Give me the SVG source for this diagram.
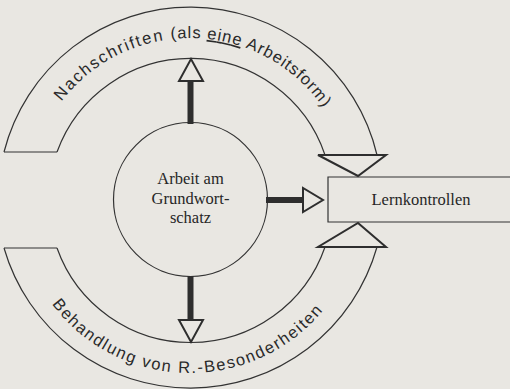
<svg xmlns="http://www.w3.org/2000/svg" width="510" height="389" viewBox="0 0 510 389">
<style>
.bg{fill:#e9e7e2}
.ln{fill:none;stroke:#333;stroke-width:1.2}
.head{fill:#e9e7e2;stroke:#2e2e2e;stroke-width:2;stroke-linejoin:miter}
.shaft{fill:#2e2e2e}
.serif{font-family:"Liberation Serif","Times New Roman",serif;font-size:16.5px;fill:#262626;text-anchor:middle}
.sans{font-family:"Liberation Sans",Arial,sans-serif;font-size:16.5px;fill:#2a2a2a}
</style>
<defs>
<path id="topPath" d="M61.5,101.4 A162,162 0 0 1 336.8,131.5"/>
<path id="botPath" d="M51.8,304.1 A173,173 0 0 0 339.8,286.5"/>
</defs>
<rect class="bg" x="0" y="0" width="510" height="389"/>
<g id="band-top">
<path class="ln" d="M4,152 A192,192 0 0 1 377,155"/>
<path class="ln" d="M57,152 A142,142 0 0 1 325,155"/>
<path class="ln" d="M4,152 H57"/>
<text class="sans"><textPath href="#topPath"><tspan letter-spacing="1.7">Nachschriften </tspan><tspan letter-spacing="0.9">(als <tspan text-decoration="underline">eine</tspan> Arbeitsform)</tspan></textPath></text>
</g>
<g id="band-bottom">
<path class="ln" d="M4,248 A194,194 0 0 0 377,247"/>
<path class="ln" d="M57,248 A142,142 0 0 0 325,247"/>
<path class="ln" d="M4,248 H57"/>
<text class="sans" letter-spacing="1.6"><textPath href="#botPath">Behandlung von R.-Besonderheiten</textPath></text>
</g>
<g id="circle-node">
<circle class="ln" cx="190.5" cy="199.5" r="77"/>
<text class="serif" x="190.5" y="184">Arbeit am</text>
<text class="serif" x="190.5" y="203.5">Grundwort-</text>
<text class="serif" x="190.5" y="222.5">schatz</text>
</g>
<g id="lernkontrollen">
<path class="ln" d="M515,177 H328 V222 H515"/>
<text class="serif" x="421" y="205">Lernkontrollen</text>
</g>
<g id="connectors">
<rect class="shaft" x="187.5" y="80" width="6" height="44"/>
<polygon class="head" points="179,81 203,81 191,59"/>
<rect class="shaft" x="187.5" y="276" width="6" height="45"/>
<polygon class="head" points="179,320 203,320 191,342"/>
<rect class="shaft" x="266" y="197" width="38" height="6"/>
<polygon class="head" points="303,188 303,212 323,200"/>
<polygon class="head" points="318,155 386,155 358,176"/>
<polygon class="head" points="318,247 386,247 358,223"/>
</g>
</svg>
